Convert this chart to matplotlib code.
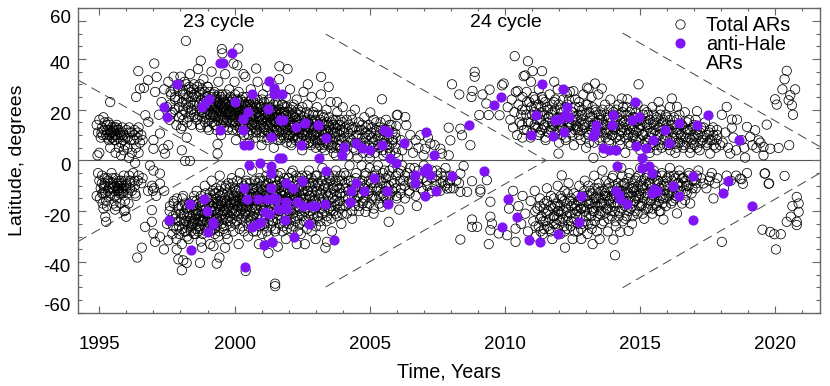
"""Butterfly diagram of active regions, cycles 23 and 24"""

import matplotlib

matplotlib.use("Agg")

import matplotlib.pyplot as plt
from matplotlib.lines import Line2D
from matplotlib.ticker import FixedFormatter, FixedLocator, MultipleLocator
from matplotlib.transforms import ScaledTranslation

plt.rcParams["font.family"] = ["Liberation Sans", "DejaVu Sans"]

# (year, latitude)
sparse_north = [
    (1995.4,23),(1996.44,35.2),(1996.36,25),(1996.5,28.3),(1996.65,28.6),(1996.8,31.6),(1997.03,38.2),(1997.12,32.9),
    (1997.06,27),(1996.7,17.8),(1996.81,15.2),(1998.2,47.1),(1998.75,39.3),(1999.53,43.9),(1999.55,42.2),(2000.14,44.1),
    (1999.96,38.2),(2000.1,37.5),(2000.33,34),(2000.8,36.2),(2001.66,37.1),(2001.96,36),(2003.2,32.9),(2003.48,29),
    (2002.71,30),(2003.79,23),(2005.45,24.1),(2005.02,18.9),(2006,17.8),(2006.03,18),(2006.31,17.1),(2006.35,13.9),
    (2005.98,13.5),(2005.94,10.6),(2006.87,9.9),(2007.24,6.6),(2007.05,4.6),(2006.99,2),(2007.61,4.6),(2007.92,2),
    (2007.67,2.7),(2007.98,7.9),(2007.92,12.9),(2008.35,12.5),(2008.41,9.9),(2008.72,6),(2008.04,30),(2008.31,26),
    (2008.76,25),(2008.8,27.4),(2008.88,34.9),(2008.88,33),(2009.17,26),(2009.43,27.9),(2009.31,22.4),(2009.05,17.9),
    (2009.4,17.9),(2009.89,29.6),(2009.95,30.3),(2009.8,17.8),(2010.36,41.1),(2010.85,39.1),(2011.37,35.2),(2011.02,35.2),
    (2010.69,33.2),(2010.75,33.5),(2010.96,31),(2010.47,27.4),(2011.82,31),(2012.53,27.3),(2012.29,26.4),(2013.09,28.3),
    (2013.03,28.7),(2013.33,30.3),(2013.58,28.3),(2014.94,30),(2014.32,24.4),(2014.53,24.1),(2015.68,23),(2016.17,24.4),
    (2016.36,21.1),(2017.1,19.4),(2018.2,21.1),(2018.02,18),(2018.39,16.1),(2018.58,16.1),(2018.39,12.9),(2018.95,13.2),
    (2019.25,11.9),(2019.68,14.1),(2017.96,6),(2018.33,2.7),(2018.88,1.1),(2017.59,2.7),(2011.98,2.7),(2013.27,1),
    (2019.81,4.6),(2020.12,4.9),(2020.51,6),(2019.07,9.3),(2019.38,7.9),(2019.56,5.3),(2019.56,2),(2020.42,35.3),
    (2020.34,32),(2020.26,28),(2020.73,28),(2020.55,25.7),(2020.49,23.7),(2019.99,24.1),(2020.05,22),(2020.61,21.8),
    (2020.65,18),(1997,8),(1997,4.6),(1997.37,4.6),(1997.43,2.7),(1997.55,6),(1997.24,10.6),(1998.05,4),(1998.17,-0.2),
    (1998.35,-0.2),(1998.23,9),(1999.37,2.7),(1999.37,6.4),(1998.08,13.5),(1998.02,12.5),
]

sparse_south = [
    (1995.25,-24.2),(1995.22,-22.2),(1995.15,-19),(1995.99,-22.2),(1995.96,-19.6),(1995.58,-19.4),(1996.94,-19.6),
    (1996.94,-24.2),(1996.69,-26.2),(1997.0,-28.8),(1997.24,-30.1),(1997.06,-32.1),(1997.55,-31.5),(1996.57,-34.4),
    (1996.4,-38.3),(1997.39,-35.1),(1997.86,-35.1),(1997.92,-39),(1998.1,-39.4),(1998.23,-40.4),(1998.05,-43.3),
    (1998.72,-40.4),(1999.34,-40.7),(1999.44,-38.3),(1998.79,-34.4),(1999.22,-33.8),(1999.65,-34.4),(2000.41,-43.6),
    (2001.25,-36.5),(2001.5,-48.6),(2001.5,-49.6),(2003.36,-34.4),(2003.42,-32.1),(2005.14,-21),(2005.7,-24.2),
    (2004.84,-20.3),(2006.74,-18),(2006.09,-19.4),(2005.45,-18.3),(2008.35,-31.2),(2008.78,-23.3),(2008.97,-26.2),
    (2008.78,-26.2),(2009.46,-16.3),(2009.46,-22.2),(2009.52,-24.9),(2009.46,-27.5),(2009.4,-33),(2009.77,-28.8),
    (2010.08,-29.5),(2010.39,-32.1),(2010.39,-26.9),(2009.09,-12.4),(2009.33,-7.8),(2008.78,-8.2),(2008.35,-12.4),
    (2008.6,-12.4),(2007.86,-11.1),(2008.47,-2.2),(2008.35,-5.2),(2009.09,-11.5),(2019.6,-5.2),(2020.34,-6.1),
    (2019.75,-9.2),(2018.95,-5),(2018.7,-7.2),(2018.75,-7.4),(2018.8,-9.2),(2012.1,-5.9),(2018.02,-32.1),(2014.07,-37.4),
    (2019.52,-27.3),(2019.81,-28.2),(2019.96,-29.1),(2020.2,-29.1),(2020.02,-35.1),(2020.42,-24.2),(2020.57,-22.2),
    (2020.79,-24.2),(2020.79,-25.5),(2020.86,-20.3),(2020.63,-18),(2020.86,-17),(2020.79,-14.4),(2017.71,-15),
    (2012.22,-34.4),(2013.24,-33),(2012.82,-31),(2013.5,-31),(2014.01,-31.2),(2014.57,-27.8),(2014.26,-28.2),
    (2016.36,-20.9),(2016.85,-17),(2015.86,-23.3),(2016.66,-15.7),(2016.72,-13),(2017.34,-9.1),(2017.77,-9.1),
    (2017.59,-6.5),(2019.62,-5.1),(2019.77,-9.1),(1996.87,-2),(1997,-4),(1997.24,-5.2),(1997.24,-9.2),
]

early_cycle = [
    (1994.9,14),(1994.95,11),(1995.0,16),(1995.05,9),(1995.1,13),(1995.15,17),(1995.2,15),(1995.25,10),(1995.3,12),
    (1995.35,8),(1995.4,14),(1995.45,11),(1995.5,10),(1995.55,13),(1995.6,8),(1995.65,12),(1995.7,9),(1995.75,11),
    (1995.8,7),(1995.85,13),(1995.9,10),(1995.95,6),(1996.0,12),(1996.05,9),(1996.1,13),(1996.15,8),(1996.2,11),
    (1996.3,10),(1996.35,5),(1996.4,9),(1996.45,13),(1996.5,7),(1996.55,10),(1996.6,8),(1995.12,10),(1995.33,15),
    (1995.48,9),(1995.52,12),(1995.58,10),(1995.42,11),(1995.62,13),(1995.37,10),(1994.93,2),(1995.0,3),(1995.4,5),
    (1995.6,3),(1995.8,2),(1995.9,4),(1996.1,1),(1996.2,3),(1996.32,-1),(1996.45,3),(1996.05,5),(1995.72,5),
    (1994.95,-5),(1995.0,-8),(1995.05,-11),(1994.9,-14),(1995.1,-6),(1995.15,-13),(1995.2,-9),(1995.25,-16),
    (1995.3,-7),(1995.35,-11),(1995.4,-14),(1995.45,-5),(1995.5,-9),(1995.55,-12),(1995.6,-7),(1995.65,-15),
    (1995.7,-10),(1995.75,-13),(1995.8,-8),(1995.85,-11),(1995.9,-6),(1995.95,-16),(1996.0,-10),(1996.05,-13),
    (1996.1,-6),(1996.15,-9),(1996.2,-12),(1996.25,-5),(1996.3,-8),(1996.35,-14),(1996.45,-6),(1996.55,-9),
    (1996.6,-7),(1995.02,-15),(1995.12,-17),(1995.28,-18),(1995.52,-17),(1995.62,-18),(1995.68,-11),(1995.78,-17),
    (1995.88,-13),(1995.92,-20),(1995.18,-11),(1995.22,-13),(1995.72,-12),(1995.76,-10),(1996.08,-17),(1996.8,-12),
    (1996.95,-10),(1997.02,-11),(1996.98,-12),(1997.1,-14),
]

north_23 = [
    (1997.2,18),(1997.3,23),(1997.4,28),(1997.5,21),(1997.55,31),(1997.6,16),(1997.65,26),(1997.7,19),(1997.75,33),
    (1997.8,24),(1997.85,14),(1997.9,29),(1997.95,21),(1998.0,33),(1998.05,18),(1998.1,26),(1998.15,31),(1998.2,22),
    (1998.25,15),(1998.3,28),(1998.35,34),(1998.4,20),(1998.45,25),(1998.5,30),(1998.55,17),(1998.6,23),(1998.65,36),
    (1998.7,27),(1998.75,13),(1998.8,19),(1998.85,32),(1998.9,25),(1998.95,17),(1999.0,29),(1999.05,12),(1999.1,22),
    (1999.15,35),(1999.2,18),(1999.25,27),(1999.3,14),(1999.35,24),(1999.4,31),(1999.45,20),(1999.5,10),(1999.55,26),
    (1999.6,16),(1999.65,34),(1999.7,22),(1999.75,12),(1999.8,28),(1999.85,19),(1999.9,24),(1999.95,15),(2000.0,31),
    (2000.05,8),(2000.1,21),(2000.15,27),(2000.2,13),(2000.25,18),(2000.3,25),(2000.35,10),(2000.4,33),(2000.45,16),
    (2000.5,22),(2000.55,7),(2000.6,28),(2000.65,14),(2000.7,19),(2000.75,24),(2000.8,11),(2000.85,31),(2000.9,17),
    (2000.95,21),(2001.0,6),(2001.05,26),(2001.1,13),(2001.15,18),(2001.2,29),(2001.25,9),(2001.3,23),(2001.35,15),
    (2001.4,20),(2001.45,5),(2001.5,27),(2001.55,12),(2001.6,17),(2001.65,32),(2001.7,8),(2001.75,22),(2001.8,14),
    (2001.85,19),(2001.9,25),(2001.95,10),(2002.0,16),(2002.05,28),(2002.1,6),(2002.15,21),(2002.2,12),(2002.25,17),
    (2002.3,24),(2002.35,9),(2002.4,14),(2002.45,19),(2002.5,4),(2002.55,27),(2002.6,11),(2002.65,16),(2002.7,22),
    (2002.75,7),(2002.8,13),(2002.85,25),(2002.9,18),(2002.95,10),(2003.0,5),(2003.05,21),(2003.1,14),(2003.15,8),
    (2003.2,26),(2003.25,11),(2003.3,17),(2003.35,4),(2003.4,20),(2003.45,9),(2003.5,13),(2003.55,23),(2003.6,6),
    (2003.65,16),(2003.7,11),(2003.75,2),(2003.8,19),(2003.85,8),(2003.9,14),(2003.95,4),(2004.0,21),(2004.05,11),
    (2004.1,6),(2004.15,16),(2004.2,2),(2004.25,9),(2004.3,18),(2004.35,13),(2004.4,5),(2004.45,20),(2004.5,10),
    (2004.55,1),(2004.6,15),(2004.65,7),(2004.7,12),(2004.75,3),(2004.8,17),(2004.85,9),(2004.9,5),(2004.95,14),
    (2005.0,1),(2005.05,11),(2005.1,7),(2005.15,16),(2005.2,3),(2005.25,12),(2005.3,9),(2005.35,5),(2005.4,15),
    (2005.5,2),(2005.55,10),(2005.6,16),(2005.65,6),(2005.7,12),(2005.75,3),(2005.8,14),(2005.85,8),(2005.95,5),
    (2006.05,1),(2006.15,8),(2006.2,4),(2006.4,6),(2006.5,10),(2006.6,3),(2006.7,8),(2006.8,5),(2007.15,9),(2007.4,6),
]

south_23 = [
    (1997.4,-12),(1997.5,-25),(1997.6,-20),(1997.7,-29),(1997.75,-16),(1997.8,-23),(1997.85,-31),(1997.9,-18),
    (1997.95,-26),(1998.0,-21),(1998.05,-33),(1998.1,-14),(1998.15,-24),(1998.2,-28),(1998.25,-19),(1998.3,-31),
    (1998.35,-22),(1998.4,-26),(1998.45,-16),(1998.5,-24),(1998.55,-29),(1998.6,-12),(1998.65,-21),(1998.7,-26),
    (1998.75,-32),(1998.8,-18),(1998.85,-24),(1998.9,-10),(1998.95,-28),(1999.0,-15),(1999.05,-21),(1999.1,-33),
    (1999.15,-8),(1999.2,-18),(1999.25,-27),(1999.3,-13),(1999.35,-23),(1999.4,-30),(1999.45,-6),(1999.5,-16),
    (1999.55,-21),(1999.6,-26),(1999.65,-11),(1999.7,-19),(1999.75,-31),(1999.8,-14),(1999.85,-24),(1999.9,-7),
    (1999.95,-28),(2000.0,-17),(2000.05,-12),(2000.1,-22),(2000.15,-33),(2000.2,-5),(2000.25,-18),(2000.3,-26),
    (2000.35,-14),(2000.4,-21),(2000.45,-9),(2000.5,-30),(2000.55,-16),(2000.6,-24),(2000.65,-4),(2000.7,-11),
    (2000.75,-19),(2000.8,-28),(2000.85,-14),(2000.9,-33),(2000.95,-8),(2001.0,-22),(2001.05,-17),(2001.1,-26),
    (2001.15,-12),(2001.2,-3),(2001.25,-30),(2001.3,-18),(2001.35,-7),(2001.4,-24),(2001.45,-14),(2001.5,-28),
    (2001.55,-10),(2001.6,-34),(2001.65,-20),(2001.7,-5),(2001.75,-16),(2001.8,-26),(2001.85,-12),(2001.9,-31),
    (2001.95,-21),(2002.0,-7),(2002.05,-17),(2002.1,-27),(2002.15,-4),(2002.2,-14),(2002.25,-23),(2002.3,-33),
    (2002.35,-10),(2002.4,-19),(2002.45,-29),(2002.5,-6),(2002.55,-15),(2002.6,-33),(2002.65,-24),(2002.7,-12),
    (2002.75,-4),(2002.8,-20),(2002.85,-28),(2002.9,-9),(2002.95,-16),(2003.0,-31),(2003.05,-6),(2003.1,-22),
    (2003.15,-13),(2003.2,-26),(2003.25,-3),(2003.3,-18),(2003.35,-10),(2003.4,-24),(2003.45,-14),(2003.5,-6),
    (2003.55,-20),(2003.6,-28),(2003.65,-11),(2003.7,-16),(2003.75,-4),(2003.8,-22),(2003.85,-8),(2003.9,-13),
    (2003.95,-25),(2004.0,-18),(2004.05,-5),(2004.1,-11),(2004.15,-21),(2004.2,-15),(2004.25,-2),(2004.3,-8),
    (2004.35,-23),(2004.4,-12),(2004.45,-18),(2004.5,-5),(2004.55,-14),(2004.6,-20),(2004.65,-9),(2004.7,-2),
    (2004.75,-16),(2004.8,-11),(2004.85,-6),(2004.9,-18),(2004.95,-13),(2005.0,-3),(2005.05,-9),(2005.1,-15),
    (2005.15,-19),(2005.2,-6),(2005.25,-12),(2005.3,-2),(2005.35,-17),(2005.4,-8),(2005.5,-14),(2005.55,-4),
    (2005.6,-10),(2005.65,-17),(2005.7,-6),(2005.75,-13),(2005.85,-3),(2005.9,-9),(2006.0,-15),(2006.05,-5),
    (2006.15,-11),(2006.2,-2),(2006.25,-8),(2006.3,-15),(2006.4,-5),(2006.45,-12),(2006.55,-9),(2006.65,-3),
    (2006.7,-14),(2006.8,-7),(2006.9,-11),(2007.0,-2),(2007.1,-8),(2007.2,-13),(2007.3,-4),(2007.4,-10),(2007.5,-6),
    (2007.6,-12),(2007.7,-8),(2007.8,-3),(2007.9,-9),(2008.0,-6),(2008.1,-11),(2008.2,-8),(2008.3,-9),
]

north_24 = [
    (2010.1,21),(2010.2,16),(2010.25,24),(2010.3,13),(2010.35,19),(2010.4,27),(2010.45,10),(2010.5,22),(2010.55,15),
    (2010.6,18),(2010.65,25),(2010.7,12),(2010.75,20),(2010.8,27),(2010.85,15),(2010.9,23),(2010.95,9),(2011.0,18),
    (2011.05,25),(2011.1,13),(2011.15,21),(2011.2,16),(2011.25,28),(2011.3,11),(2011.35,19),(2011.4,24),(2011.45,14),
    (2011.5,8),(2011.55,21),(2011.6,17),(2011.65,26),(2011.7,12),(2011.75,19),(2011.8,23),(2011.85,10),(2011.9,15),
    (2011.95,28),(2012.0,7),(2012.05,20),(2012.1,13),(2012.15,24),(2012.2,17),(2012.25,9),(2012.3,22),(2012.35,14),
    (2012.4,27),(2012.45,11),(2012.5,19),(2012.55,6),(2012.6,24),(2012.65,16),(2012.7,12),(2012.75,21),(2012.8,8),
    (2012.85,18),(2012.9,26),(2012.95,14),(2013.0,5),(2013.05,22),(2013.1,10),(2013.15,17),(2013.2,25),(2013.25,13),
    (2013.3,7),(2013.35,20),(2013.4,15),(2013.45,26),(2013.5,9),(2013.55,18),(2013.6,13),(2013.65,3),(2013.7,22),
    (2013.75,11),(2013.8,16),(2013.85,7),(2013.9,24),(2013.95,10),(2014.0,19),(2014.05,13),(2014.1,4),(2014.15,17),
    (2014.2,22),(2014.25,8),(2014.3,12),(2014.35,19),(2014.4,15),(2014.45,3),(2014.5,21),(2014.55,10),(2014.6,14),
    (2014.65,6),(2014.7,20),(2014.75,12),(2014.8,17),(2014.85,8),(2014.9,22),(2014.95,13),(2015.0,4),(2015.05,16),
    (2015.1,10),(2015.15,20),(2015.2,7),(2015.25,14),(2015.3,18),(2015.35,3),(2015.4,11),(2015.45,21),(2015.5,14),
    (2015.55,6),(2015.6,17),(2015.65,10),(2015.7,13),(2015.75,20),(2015.8,5),(2015.85,15),(2015.9,9),(2015.95,18),
    (2016.0,12),(2016.05,6),(2016.1,21),(2016.15,14),(2016.2,9),(2016.25,17),(2016.3,3),(2016.35,12),(2016.4,7),
    (2016.45,18),(2016.5,10),(2016.55,14),(2016.6,5),(2016.65,19),(2016.7,9),(2016.75,12),(2016.8,16),(2016.85,3),
    (2016.9,8),(2016.95,13),(2017.0,6),(2017.05,16),(2017.15,10),(2017.2,4),(2017.25,13),(2017.3,8),(2017.4,15),
    (2017.45,6),(2017.55,11),(2017.65,8),(2017.7,13),(2017.8,5),(2017.85,10),(2018.05,7),(2018.15,11),(2018.25,5),
    (2018.45,9),(2018.55,4),(2018.75,8),(2018.85,5),(2019.15,6),(2019.3,5),(2019.45,7),
]

south_24 = [
    (2010.15,-19),(2010.3,-12),(2010.5,-18),(2010.6,-25),(2010.65,-14),(2010.75,-21),(2010.85,-28),(2010.95,-16),
    (2011.05,-24),(2011.1,-12),(2011.15,-30),(2011.2,-19),(2011.25,-26),(2011.3,-15),(2011.35,-22),(2011.4,-29),
    (2011.45,-17),(2011.5,-24),(2011.55,-11),(2011.6,-20),(2011.65,-27),(2011.7,-14),(2011.75,-31),(2011.8,-22),
    (2011.85,-18),(2011.9,-25),(2011.95,-10),(2012.0,-20),(2012.05,-29),(2012.1,-15),(2012.15,-23),(2012.2,-12),
    (2012.25,-19),(2012.3,-27),(2012.35,-9),(2012.4,-16),(2012.45,-24),(2012.5,-31),(2012.55,-13),(2012.6,-21),
    (2012.65,-18),(2012.7,-28),(2012.75,-10),(2012.8,-19),(2012.85,-25),(2012.9,-14),(2012.95,-8),(2013.0,-22),
    (2013.05,-29),(2013.1,-17),(2013.15,-12),(2013.2,-25),(2013.25,-20),(2013.3,-6),(2013.35,-15),(2013.4,-28),
    (2013.45,-11),(2013.5,-21),(2013.55,-17),(2013.6,-4),(2013.65,-24),(2013.7,-13),(2013.75,-19),(2013.8,-28),
    (2013.85,-9),(2013.9,-15),(2013.95,-22),(2014.0,-6),(2014.05,-18),(2014.1,-26),(2014.15,-11),(2014.2,-20),
    (2014.25,-14),(2014.3,-3),(2014.35,-24),(2014.4,-9),(2014.45,-17),(2014.5,-22),(2014.55,-13),(2014.6,-5),
    (2014.65,-19),(2014.7,-25),(2014.75,-11),(2014.8,-16),(2014.85,-7),(2014.9,-21),(2014.95,-14),(2015.0,-3),
    (2015.05,-18),(2015.1,-10),(2015.15,-23),(2015.2,-13),(2015.25,-6),(2015.3,-19),(2015.35,-9),(2015.4,-16),
    (2015.45,-21),(2015.5,-4),(2015.55,-14),(2015.6,-18),(2015.65,-8),(2015.7,-11),(2015.75,-20),(2015.8,-5),
    (2015.85,-15),(2015.9,-10),(2015.95,-18),(2016.0,-7),(2016.05,-13),(2016.1,-3),(2016.15,-17),(2016.2,-12),
    (2016.25,-6),(2016.3,-15),(2016.4,-9),(2016.45,-4),(2016.5,-12),(2016.55,-17),(2016.6,-7),(2016.7,-10),
    (2016.8,-5),(2016.9,-13),(2017.0,-8),(2017.05,-11),(2017.15,-4),(2017.25,-7),(2017.45,-11),(2017.55,-8),
    (2017.65,-5),(2017.85,-7),(2018.1,-11),(2018.2,-6),(2018.35,-8),(2018.55,-6),
]

# dense cores, given as (year, latitudes seen near that year)
core_north_23 = [
    (1997.62,[22,27,18]),(1997.78,[28,20,25]),(1997.93,[24,17,30]),(1998.07,[23,28,20,16]),(1998.18,[26,19,24,30]),
    (1998.29,[21,25,17,29]),(1998.38,[23,27,19,14]),(1998.48,[22,28,18,26]),(1998.58,[25,20,16,29]),
    (1998.68,[22,18,26,30,14]),(1998.77,[24,20,17,28,22]),(1998.87,[19,23,27,15,21]),(1998.96,[22,18,25,13,29]),
    (1999.04,[20,24,16,27,22,18]),(1999.13,[19,23,15,25,21,17]),(1999.21,[22,18,26,14,20,24]),(1999.29,[17,21,25,19,12,23]),
    (1999.38,[20,16,23,18,26,22]),(1999.46,[22,17,19,25,14,21]),(1999.54,[18,22,16,24,20,13]),(1999.63,[21,17,23,19,26,15]),
    (1999.71,[20,16,22,18,24,13]),(1999.79,[23,19,15,21,17,25]),(1999.88,[18,22,16,20,12,24]),(1999.96,[21,17,23,19,14,26]),
    (2000.04,[18,22,15,20,24,12]),(2000.13,[21,16,19,23,13,17]),(2000.21,[20,24,15,18,22,11]),(2000.29,[17,21,13,19,23,15]),
    (2000.38,[20,16,22,14,18,25]),(2000.46,[18,13,21,16,23,10]),(2000.54,[20,15,17,22,12,24]),(2000.63,[18,14,21,16,11,23]),
    (2000.71,[20,15,18,13,22,9]),(2000.79,[17,21,14,19,12,24]),(2000.88,[15,19,22,11,17,13]),(2000.96,[18,14,21,16,9,24]),
    (2001.04,[16,20,13,18,11,23]),(2001.13,[19,15,12,21,17,8]),(2001.21,[16,20,14,18,11,24]),(2001.29,[17,13,21,15,10,19]),
    (2001.38,[14,18,12,20,16,22]),(2001.46,[17,13,19,10,15,23]),(2001.54,[15,20,12,18,8,22]),(2001.63,[14,18,11,16,20,9]),
    (2001.71,[17,13,19,10,15,22]),(2001.79,[12,16,19,9,14,21]),(2001.88,[15,11,18,13,7,21]),(2001.96,[17,12,19,9,14]),
    (2002.04,[13,17,10,15,20,7]),(2002.13,[15,11,18,9,13,22]),(2002.21,[14,10,17,8,19]),(2002.29,[12,16,9,14,20]),
    (2002.38,[15,11,7,18,13]),(2002.46,[13,9,16,11,21]),(2002.54,[14,10,6,17,12]),(2002.63,[13,8,15,19,10]),
    (2002.71,[11,15,7,13,18]),(2002.79,[14,9,12,6,16]),(2002.88,[11,15,7,19,13]),(2002.96,[13,8,16,11]),
    (2003.04,[11,15,7,18,9]),(2003.13,[13,6,10,16]),(2003.21,[12,8,15,5,18]),(2003.29,[10,14,6,12]),
    (2003.38,[12,7,15,9]),(2003.46,[11,6,14,17]),(2003.54,[9,12,5,15]),(2003.63,[11,7,14,3]),
    (2003.71,[9,13,5,16]),(2003.79,[11,6,14]),(2003.88,[10,6,12,16]),(2003.96,[8,12,15]),
    (2004.08,[9,13,4]),(2004.21,[11,7,14]),(2004.33,[8,12,16]),(2004.46,[7,13,4]),(2004.58,[10,6,12]),
    (2004.71,[9,14,5]),(2004.83,[7,11,13]),(2004.96,[10,6,3]),(2005.08,[9,13,5]),(2005.21,[8,11,15]),
    (2005.33,[6,10,13]),(2005.46,[8,4,12]),(2005.58,[7,12,3]),(2005.71,[9,5,14]),(2005.83,[7,11]),(2005.96,[9,3]),
]

core_south_23 = [
    (1997.6,[-24,-18]),(1997.72,[-22,-26,-17]),(1997.84,[-21,-27,-15]),(1997.93,[-24,-19,-29]),(1998.03,[-23,-18,-27,-15]),
    (1998.12,[-21,-25,-28,-17]),(1998.21,[-24,-19,-22,-30]),(1998.29,[-26,-21,-17,-24]),(1998.38,[-23,-28,-19,-25]),
    (1998.46,[-21,-25,-18,-29,-14]),(1998.54,[-23,-19,-27,-21,-16]),(1998.63,[-25,-20,-28,-17,-23]),(1998.71,[-22,-27,-18,-24,-14]),
    (1998.79,[-24,-20,-29,-16,-22]),(1998.88,[-21,-26,-18,-23,-13]),(1998.96,[-19,-24,-27,-15,-21]),(1999.04,[-22,-17,-25,-19,-13,-28]),
    (1999.13,[-20,-15,-23,-18,-27,-12]),(1999.21,[-22,-17,-25,-20,-13,-29]),(1999.29,[-19,-15,-23,-11,-26,-17]),
    (1999.38,[-21,-16,-24,-18,-12,-28]),(1999.46,[-19,-14,-22,-17,-10,-25]),(1999.54,[-18,-13,-23,-16,-20,-27]),
    (1999.63,[-20,-15,-17,-23,-10,-29]),(1999.71,[-16,-21,-13,-24,-18,-9]),(1999.79,[-19,-15,-22,-11,-17,-26]),
    (1999.88,[-17,-13,-20,-23,-9,-15]),(1999.96,[-19,-14,-21,-16,-11,-25]),(2000.04,[-16,-20,-13,-24,-18,-8]),
    (2000.13,[-18,-14,-21,-11,-16,-27]),(2000.21,[-15,-20,-12,-23,-17,-9]),(2000.29,[-19,-14,-16,-22,-10,-28]),
    (2000.38,[-16,-12,-20,-18,-24,-8]),(2000.46,[-14,-18,-11,-22,-16,-26]),(2000.54,[-17,-13,-20,-9,-15,-23]),
    (2000.63,[-15,-19,-11,-22,-13,-28]),(2000.71,[-17,-13,-21,-8,-15,-25]),(2000.79,[-14,-19,-11,-23,-16,-9]),
    (2000.88,[-17,-12,-21,-15,-7,-26]),(2000.96,[-13,-18,-10,-23,-15,-29]),(2001.04,[-16,-12,-20,-8,-14,-25]),
    (2001.13,[-14,-18,-10,-22,-6,-28]),(2001.21,[-16,-12,-20,-9,-24,-14]),(2001.29,[-13,-17,-11,-22,-7,-26]),
    (2001.38,[-15,-19,-10,-13,-24,-5]),(2001.46,[-17,-12,-21,-8,-14,-27]),(2001.54,[-13,-18,-10,-23,-16,-6]),
    (2001.63,[-15,-11,-20,-8,-25,-13]),(2001.71,[-17,-12,-22,-9,-14,-28]),(2001.79,[-14,-19,-10,-24,-7,-16]),
    (2001.88,[-13,-18,-9,-22,-15,-27]),(2001.96,[-16,-11,-20,-7,-25,-13]),(2002.04,[-14,-19,-10,-23,-16,-5]),
    (2002.13,[-12,-17,-21,-8,-26,-14]),(2002.21,[-15,-10,-19,-24,-12,-6]),(2002.29,[-13,-18,-8,-22,-16,-28]),
    (2002.38,[-11,-16,-20,-25,-7,-14]),(2002.46,[-15,-10,-18,-22,-12]),(2002.54,[-13,-17,-8,-24,-20]),(2002.63,[-15,-10,-19,-6,-27]),
    (2002.71,[-12,-17,-22,-9,-14]),(2002.79,[-14,-10,-18,-25,-7]),(2002.88,[-12,-16,-21,-8,-23]),(2002.96,[-14,-10,-19,-6,-26]),
    (2003.04,[-12,-17,-22,-9]),(2003.13,[-15,-10,-19,-24]),(2003.21,[-13,-8,-17,-21]),(2003.29,[-11,-15,-20,-6]),
    (2003.38,[-13,-17,-9,-22]),(2003.46,[-11,-16,-19,-7]),(2003.54,[-13,-8,-18,-23]),(2003.63,[-15,-10,-20,-6]),
    (2003.71,[-12,-18,-8,-21]),(2003.79,[-14,-10,-17]),(2003.88,[-11,-16,-19,-6]),(2003.96,[-13,-8,-21]),
    (2004.08,[-14,-9,-18,-6]),(2004.21,[-12,-17,-8]),(2004.33,[-14,-10,-20]),(2004.46,[-12,-16,-7]),(2004.58,[-10,-14,-18]),
    (2004.71,[-13,-8,-17]),(2004.83,[-10,-15,-5]),(2004.96,[-12,-8,-17]),(2005.08,[-11,-14,-6]),(2005.21,[-9,-15,-4]),
    (2005.33,[-11,-7,-14]),(2005.46,[-9,-13,-5]),(2005.58,[-12,-7,-15]),(2005.71,[-10,-4,-14]),(2005.83,[-8,-12]),
    (2005.96,[-11,-6,-14]),(2006.12,[-8,-13,-4]),(2006.29,[-10,-6]),(2006.46,[-8,-13,-3]),(2006.62,[-10,-6]),(2006.79,[-9,-4]),
    (2006.96,[-7,-12]),(2007.12,[-5,-10]),(2007.29,[-7,-12]),(2007.46,[-8,-4]),(2007.62,[-9,-5]),(2007.79,[-10,-6]),(2007.96,[-8,-11]),
]

core_north_24 = [
    (2010.62,[14,20,9]),(2010.79,[18,12,23]),(2010.96,[15,21,11]),(2011.08,[19,14,24]),(2011.21,[13,18,22,10]),
    (2011.33,[16,21,12,25]),(2011.46,[18,13,23,9]),(2011.58,[15,20,11,17]),(2011.71,[18,13,22,15]),(2011.83,[14,20,11,24]),
    (2011.96,[17,12,22,15]),(2012.08,[14,19,10,17]),(2012.21,[16,12,21,8]),(2012.33,[18,13,15,24]),(2012.46,[14,19,10,16]),
    (2012.58,[17,12,21,14]),(2012.71,[13,18,10,23]),(2012.83,[16,12,20,14]),(2012.96,[13,18,9,22]),(2013.08,[15,11,19,7]),
    (2013.21,[12,17,21,14]),(2013.33,[15,10,19,12]),(2013.46,[13,18,8,16]),(2013.58,[11,16,20,14]),(2013.71,[14,9,18,12]),
    (2013.83,[12,17,20,8]),(2013.96,[15,10,13,18]),(2014.08,[12,16,9,20]),(2014.21,[14,10,18,6]),(2014.33,[11,16,13,21]),
    (2014.46,[14,9,18,12]),(2014.58,[11,16,7,19]),(2014.71,[13,9,17,10]),(2014.83,[15,11,19,6]),(2014.96,[12,8,16,14]),
    (2015.08,[14,10,18,6]),(2015.21,[11,15,8,19]),(2015.33,[13,9,16,5]),(2015.46,[11,15,7,18]),(2015.58,[12,8,16,4]),
    (2015.71,[10,14,6,18]),(2015.83,[12,8,16]),(2015.96,[10,14,6,17]),(2016.08,[12,8,16,4]),(2016.21,[11,14,7]),
    (2016.33,[9,13,5,16]),(2016.46,[11,7,14]),(2016.58,[9,13,6]),(2016.71,[11,7,15]),(2016.83,[9,12,5]),(2016.96,[10,7,14]),
    (2017.08,[9,12,5]),(2017.21,[11,7]),(2017.33,[9,13]),(2017.46,[10,7]),(2017.58,[8,12]),(2017.71,[10,6]),(2017.83,[8,12]),
]

core_south_24 = [
    (2011.12,[-20,-26]),(2011.29,[-18,-23,-28]),(2011.42,[-24,-19,-27]),(2011.54,[-21,-16,-26]),(2011.67,[-23,-18,-28]),
    (2011.79,[-19,-25,-15,-22]),(2011.92,[-23,-17,-27,-20]),(2012.04,[-18,-24,-14,-21]),(2012.17,[-20,-26,-16,-28]),
    (2012.29,[-17,-22,-13,-24]),(2012.42,[-21,-26,-15,-18]),(2012.54,[-23,-17,-28,-19]),(2012.67,[-20,-14,-25,-16]),
    (2012.79,[-22,-16,-27,-19]),(2012.92,[-18,-12,-24,-20]),(2013.04,[-19,-14,-25,-16,-10]),(2013.17,[-17,-22,-13,-27,-19]),
    (2013.29,[-15,-20,-11,-24,-17]),(2013.42,[-18,-13,-22,-15,-9]),(2013.54,[-15,-20,-12,-25,-17]),(2013.67,[-17,-12,-21,-14,-8]),
    (2013.79,[-14,-19,-11,-23,-16]),(2013.92,[-17,-12,-20,-14,-7]),(2014.04,[-15,-10,-20,-13,-24]),(2014.17,[-12,-17,-9,-22,-14]),
    (2014.29,[-15,-10,-19,-12,-6]),(2014.42,[-13,-18,-9,-23,-15]),(2014.54,[-11,-16,-7,-20,-13]),(2014.67,[-14,-9,-18,-11,-22]),
    (2014.79,[-12,-16,-8,-20,-14]),(2014.92,[-10,-15,-6,-18,-12]),(2015.04,[-13,-8,-17,-11,-21]),(2015.17,[-11,-15,-7,-19]),
    (2015.29,[-13,-9,-17,-5]),(2015.42,[-11,-15,-7,-19]),(2015.54,[-9,-13,-17,-6]),(2015.67,[-12,-8,-16,-20]),
    (2015.79,[-10,-14,-6,-17]),(2015.92,[-12,-8,-15]),(2016.04,[-10,-14,-6]),(2016.17,[-8,-13,-16]),(2016.29,[-11,-7,-14]),
    (2016.42,[-9,-12,-6]),(2016.54,[-10,-7]),(2016.67,[-8,-12]),(2016.79,[-10,-6]),(2016.92,[-8,-11]),(2017.08,[-9,-6]),
]

core_early = [
    (1995.08,[11,-9,-13]),(1995.17,[12,-10,-7]),(1995.29,[14,9,-12,-8]),(1995.38,[12,-9,-13]),(1995.46,[13,9,-11,-7]),
    (1995.54,[11,8,-10,-14]),(1995.63,[10,14,-9,-12]),(1995.71,[12,-11,-8]),(1995.79,[10,-9,-13]),(1995.87,[11,8,-12,-10]),
    (1995.96,[9,-8,-11]),(1996.12,[11,-11,-8]),(1996.29,[8,12,-10,-13]),(1996.42,[11,-8]),
]

antihale_north = [
    (1997.86,30),(1997.38,21.1),(1997.49,17.1),(1998.79,21.1),(1998.91,22.7),(1999.07,24.2),(1999.47,38.3),(1999.59,38.3),
    (1999.9,42.2),(2000.03,23.1),(1999.45,12),(2000.48,19.2),(2000.32,16.2),(2000.3,12),(2000.36,6),(2000.55,6),
    (2000.66,26),(2001.27,31.2),(2001.46,28.4),(2001.44,26.2),(2001.25,20.1),(2001.34,9.1),(2001.66,0.9),(2001.69,15.9),
    (2001.75,26),(2001.79,16.1),(2002.28,13),(2002.61,14.9),(2003.08,14),(2003.38,9),(2002.45,6),(2001.75,0.8),
    (2003.13,0.8),(2004.06,5.2),(2003.97,2),(2004.5,6.9),(2004.71,4.9),(2005.02,4),(2005.45,6),(2005.51,11.9),
    (2005.66,11),(2006.25,6.9),(2007.07,11),(2007.39,2),(2008.66,14),(2009.58,22),(2009.86,25),(2011.37,30),
    (2011.16,17.9),(2010.96,9.9),(2005.76,1),(2012.13,28),(2012.29,21.1),(2012.22,17.8),(2012.04,16.5),(2011.85,15.8),
    (2012.35,17.1),(2011.79,9.5),(2012.2,11),(2013.37,14.1),(2013.33,11.2),(2013.27,9.5),(2014.01,17.9),(2013.95,13.9),
    (2014.8,23),(2014.69,16.1),(2014.94,17.1),(2015.9,11.9),(2016.45,14.9),(2017.1,13.9),(2017.49,17.9),(2015.49,7.9),
    (2016.08,7),(2014.85,5.8),(2015.23,4.9),(2013.62,4.9),(2013.86,4),(2014.11,4),(2018.65,7.9),(2015.05,1),
]

antihale_south = [
    (2000.55,-2),(2000.93,-1.2),(2001.33,-2.2),(2001.35,-5),(2000.35,-11),(2000.46,-15.3),(2000.86,-15.3),(2001.35,-11),
    (2001.19,-15.3),(2001.38,-15.3),(2001.54,-15.3),(2001.13,-20.3),(2001.29,-21.2),(2000.98,-24.2),(2000.82,-25.1),
    (2000.66,-26.2),(2001.08,-33.3),(2001.4,-32.2),(2000.4,-42.2),(1997.59,-23.3),(1998.36,-17.1),(1998.88,-15.3),
    (1998.99,-20),(1999.2,-24.2),(1999.2,-25.2),(1999.03,-28.2),(1998.39,-35.3),(2001.62,-19.3),(2005.97,-1.1),
    (2003.39,-4.2),(2001.9,-9.1),(2002.16,-11),(2002.48,-8.2),(2004.5,-9.1),(2004.32,-12.1),(2004.77,-12.1),(2004.28,-16.3),
    (2005.15,-7.1),(2005.65,-12.1),(2005.67,-17.1),(2006.68,-9.1),(2006.68,-5.9),(2007.1,-3),(2006.99,-4.2),(2007.21,-5.9),
    (2008.04,-6),(2009.21,-4.2),(2007.03,-14.1),(2007.45,-12.1),(2001.47,-15),(2001.91,-16.3),(2001.69,-19.2),
    (2001.94,-19),(2002.31,-16.3),(2002.52,-18),(2002.86,-18),(2002.98,-18),(2003.33,-17.1),(2001.87,-23.6),(2002.75,-25.1),
    (2002.18,-30.1),(2001.38,-32.1),(2003.66,-31.2),(2010.12,-15.3),(2010.46,-22.2),(2009.89,-26.2),(2010.9,-31.2),
    (2011.3,-32.1),(2014.16,-2.2),(2015.07,-3),(2015.31,-2.2),(2015.43,-5.1),(2016.94,-6.1),(2018.25,-8.1),(2016.21,-10),
    (2014.1,-12.1),(2014.2,-13.7),(2014.26,-15.4),(2014.5,-17.1),(2015.52,-11.1),(2015.62,-12.1),(2015.43,-13),
    (2016.42,-14.1),(2018.05,-13),(2019.13,-18),(2016.97,-23.3),(2012.8,-14.1),(2012.73,-24.2),(2011.97,-29.1),
]

# butterfly wing limits: (start year, start lat, end year, end lat)
guide_lines = [
    (1994.21, 31.7, 1999.45, 0),
    (1994.21, -32, 1999.45, 0),
    (2003.37, 49.8, 2011.52, 0),
    (2003.37, -49.9, 2011.52, 0),
    (2014.35, 50.2, 2021.65, 5.4),
    (2014.35, -50.2, 2021.65, -5),
]

all_regions = sparse_north + sparse_south + early_cycle + north_23 + south_23 + north_24 + south_24
for core in (core_north_23, core_south_23, core_north_24, core_south_24, core_early):
    for year, lats in core:
        # spread the latitudes across the column so they do not line up
        all_regions += [(year + 0.012 * i, lat) for i, lat in enumerate(lats)]
antihale = antihale_north + antihale_south

fig = plt.figure(figsize=(8.3, 3.86), dpi=100)
ax = fig.add_axes([78 / 830, 1 - 312.6 / 386, 742 / 830, 304.4 / 386])

ax.axhline(0, color="#555555", linewidth=0.8, zorder=1)
for x0, y0, x1, y1 in guide_lines:
    ax.plot([x0, x1], [y0, y1], color="#444444", linewidth=0.7, dashes=(10, 6), zorder=1)

ax.scatter(
    [p[0] for p in all_regions],
    [p[1] for p in all_regions],
    s=45,
    facecolors="none",
    edgecolors="black",
    linewidths=0.55,
    zorder=2,
)
ax.scatter(
    [p[0] for p in antihale],
    [p[1] for p in antihale],
    s=54,
    color="#7f14f5",
    linewidths=0,
    zorder=3,
)

ax.set_xlim(1994.21, 2021.65)
ax.set_ylim(-60, 60)

ax.xaxis.set_major_locator(MultipleLocator(5))
ax.xaxis.set_minor_locator(MultipleLocator(1))
ax.yaxis.set_major_locator(FixedLocator([-40, -20, 0, 20, 40, 55]))
ax.yaxis.set_major_formatter(FixedFormatter(["-40", "-20", "0", "20", "40", ""]))
ax.yaxis.set_minor_locator(MultipleLocator(5))

ax.tick_params(axis="x", which="major", direction="in", top=True, length=5, width=0.8, color="#666666", labelsize=13.5, pad=16.5)
ax.tick_params(axis="x", which="minor", direction="in", top=True, length=2.5, width=0.8, color="#666666")
ax.tick_params(axis="y", which="major", direction="in", right=True, length=6, width=0.8, color="#666666", labelsize=13.5, pad=5.3)
ax.tick_params(axis="y", which="minor", direction="in", right=True, length=3, width=0.8, color="#666666")

# labels sit a little below their ticks in the original
shift = ScaledTranslation(0, -4 / 100, fig.dpi_scale_trans)
for tick in ax.yaxis.get_major_ticks():
    tick.label1.set_transform(tick.label1.get_transform() + shift)

for spine in ax.spines.values():
    spine.set_color("#666666")
    spine.set_linewidth(1.0)

y_transform = ax.get_yaxis_transform()
ax.text(-0.0098, 55.8, "60", transform=y_transform, ha="right", va="center", fontsize=13.5)
ax.text(-0.0098, -57.7, "-60", transform=y_transform, ha="right", va="center", fontsize=13.5)

ax.text(1999.4, 54.2, "23 cycle", ha="center", va="center", fontsize=14)
ax.text(2010.05, 54.2, "24 cycle", ha="center", va="center", fontsize=14)

fig.text(17 / 830, 1 - 160 / 386, "Latitude, degrees", rotation=90, ha="center", va="center", fontsize=14)
fig.text(449 / 830, 1 - 372 / 386, "Time, Years", ha="center", va="center", fontsize=14.2)

legend_handles = [
    Line2D([], [], linestyle="none", marker="o", markersize=6.7, markerfacecolor="none", markeredgecolor="black", markeredgewidth=0.55),
    Line2D([], [], linestyle="none", marker="o", markersize=7.3, markerfacecolor="#7f14f5", markeredgewidth=0),
    Line2D([], [], linestyle="none"),
]
ax.legend(
    legend_handles,
    ["Total ARs", "anti-Hale", "ARs"],
    loc="upper left",
    bbox_to_anchor=(0.791, 0.992),
    frameon=False,
    fontsize=14.3,
    handletextpad=0.84,
    labelspacing=0.02,
    borderpad=0.25,
    borderaxespad=0,
    handlelength=1.0,
)

fig.savefig("out.png", dpi=100)
plt.close(fig)
